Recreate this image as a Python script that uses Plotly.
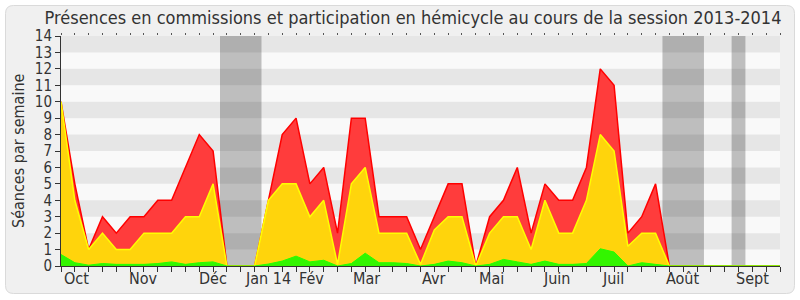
import plotly.graph_objects as go

# ---- data (weekly, session 2013-2014) ----
weeks = list(range(53))
total = [10, 5, 1, 3, 2, 3, 3, 4, 4, 6, 8, 7, 0, 0, 0, 4, 8, 9, 5, 6, 2, 9, 9, 3, 3, 3,
         1, 3, 5, 5, 0, 3, 4, 6, 2, 5, 4, 4, 6, 12, 11, 2, 3, 5, 0,
         0, 0, 0, 0, 0, 0, 0, 0]
hemicycle = [10, 4, 1, 2, 1, 1, 2, 2, 2, 3, 3, 5, 0, 0, 0, 4, 5, 5, 3, 4, 0.1, 5, 6, 2, 2, 2,
             0.1, 2.2, 3, 3, 0, 2, 3, 3, 1, 4, 2, 2, 4, 8, 7, 1.2, 2, 2, 0,
             0, 0, 0, 0, 0, 0, 0, 0]
green = [0.7, 0.2, 0.05, 0.15, 0.1, 0.1, 0.1, 0.15, 0.25, 0.1, 0.2, 0.25, 0, 0, 0, 0.12, 0.3, 0.6,
         0.25, 0.35, 0, 0.15, 0.78, 0.2, 0.2, 0.15, 0, 0.1, 0.3, 0.2, 0, 0.1, 0.4, 0.25, 0.1,
         0.3, 0.1, 0.1, 0.15, 1.05, 0.85, 0, 0.2, 0.1, 0,
         0, 0, 0, 0, 0, 0, 0, 0]
month_labels = ["Oct", "Nov", "Déc", "Jan 14", "Fév", "Mar", "Avr", "Mai", "Juin", "Juil", "Août", "Sept"]
month_weeks = [1.15, 5.95, 11.0, 14.95, 18.15, 22.1, 26.95, 31.15, 35.9, 39.95, 44.95, 50.0]
vacations = [(11.5, 14.5), (43.5, 46.5), (48.5, 49.5)]

FONT = "DejaVu Sans Condensed, DejaVu Sans"
TXT = "#333333"

# pixel geometry of plot area
L, R, T, B = 61, 780, 36, 266
W, H = 800, 300

fig = go.Figure()
fig.add_trace(go.Scatter(x=weeks, y=total, mode="lines", fill="tozeroy",
                         fillcolor="#ff3c3c", line=dict(color="#ff0000", width=1.5),
                         hoverinfo="skip"))
fig.add_trace(go.Scatter(x=weeks, y=hemicycle, mode="lines", fill="tozeroy",
                         fillcolor="#ffd40c", line=dict(color="#ffff00", width=1.5),
                         hoverinfo="skip"))
fig.add_trace(go.Scatter(x=weeks, y=green, mode="lines", fill="tozeroy",
                         fillcolor="#33f500", line=dict(color="#22ff00", width=1),
                         hoverinfo="skip"))

def px2paper(px, py):
    return (px - L) / (R - L), (B - py) / (B - T)

shapes = []
# rounded outer frame
x0, y0, x1, y1, r = 5.5, 5.5, 794.5, 293.5, 8
def P(px, py):
    a, b = px2paper(px, py)
    return f"{a:.5f},{b:.5f}"
path = (f"M {P(x0 + r, y0)} L {P(x1 - r, y0)} Q {P(x1, y0)} {P(x1, y0 + r)} "
        f"L {P(x1, y1 - r)} Q {P(x1, y1)} {P(x1 - r, y1)} L {P(x0 + r, y1)} "
        f"Q {P(x0, y1)} {P(x0, y1 - r)} L {P(x0, y0 + r)} Q {P(x0, y0)} {P(x0 + r, y0)} Z")
shapes.append(dict(type="path", xref="paper", yref="paper", path=path,
                   fillcolor="#f0f0f0", line=dict(color="#dadada", width=1), layer="below"))
shapes.append(dict(type="rect", xref="paper", yref="paper", x0=0, x1=1, y0=0, y1=1,
                   fillcolor="#f9f9f9", line=dict(width=0), layer="below"))
for a, b in vacations:
    shapes.append(dict(type="rect", xref="x", yref="y", x0=a, x1=b, y0=0, y1=14,
                       fillcolor="#bebebe", line=dict(width=0), layer="below"))
for k in range(1, 14, 2):
    shapes.append(dict(type="rect", xref="x", yref="y", x0=0, x1=52, y0=k, y1=k + 1,
                       fillcolor="rgba(0,0,0,0.075)", line=dict(width=0), layer="below"))

annotations = []
for lab, wk in zip(month_labels, month_weeks):
    annotations.append(dict(x=wk, y=(B - 278) / (B - T), xref="x", yref="paper",
                            text=lab, showarrow=False, xanchor="center", yanchor="middle",
                            font=dict(family=FONT, size=16, color=TXT)))
annotations.append(dict(x=(18 - L) / (R - L), y=0.5, xref="paper", yref="paper",
                        text="Séances par semaine", textangle=-90, showarrow=False,
                        xanchor="center", yanchor="middle",
                        font=dict(family=FONT, size=16, color=TXT)))

fig.update_layout(
    width=W, height=H,
    margin=dict(l=L, r=W - R, t=T, b=H - B, pad=0),
    paper_bgcolor="white", plot_bgcolor="#f9f9f9",
    showlegend=False,
    title=dict(text="Présences en commissions et participation en hémicycle au cours de la session 2013-2014",
               x=413 / W, xanchor="center", y=1 - 18 / H, yanchor="middle",
               font=dict(family=FONT, size=18, color=TXT)),
    shapes=shapes, annotations=annotations,
    xaxis=dict(range=[0, 52], tickvals=weeks, ticks="outside", ticklen=5, tickcolor=TXT,
               showticklabels=False, showline=True, linecolor=TXT, linewidth=1,
               showgrid=False, zeroline=False, fixedrange=True, layer="above traces"),
    xaxis2=dict(range=[0, 52], overlaying="x", side="top", tickvals=weeks, ticks="outside",
                ticklen=2, tickcolor="#555555", showticklabels=False, showline=False,
                showgrid=False, zeroline=False, fixedrange=True),
    yaxis=dict(range=[0, 14], tickvals=list(range(15)), ticks="outside", ticklen=5,
               tickcolor=TXT, showline=True, linecolor=TXT, linewidth=1,
               tickfont=dict(family=FONT, size=15, color=TXT),
               showgrid=False, zeroline=False, fixedrange=True, layer="above traces"),
)
# invisible trace to activate top axis ticks
fig.add_trace(go.Scatter(x=[0, 52], y=[0, 0], xaxis="x2", mode="lines",
                         line=dict(width=0), hoverinfo="skip", showlegend=False))

fig.write_html("out.html")
